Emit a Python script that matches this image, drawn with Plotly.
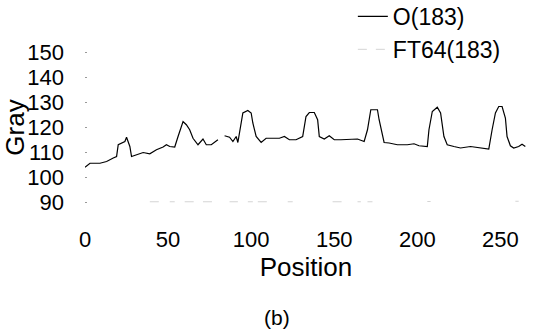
import plotly.graph_objects as go

# O(183) profile
position_o = [0, 3, 9, 13, 17, 19, 20, 22, 24, 25, 27, 28, 31, 35, 39, 43, 47, 49, 51, 54,
              56, 59, 61, 63, 65, 68, 71, 73, 76, 80, 82, 84, 87, 89, 91, 92, 95, 98, 100,
              101, 103, 106, 109, 113, 117, 120, 123, 127, 131, 133, 135, 138, 140, 141,
              144, 147, 150, 154, 158, 164, 168, 170, 172, 176, 177, 180, 183, 188, 194,
              198, 201, 206, 207, 209, 212, 214, 216, 218, 222, 226, 232, 238, 243, 245,
              247, 249, 251, 253, 254, 256, 258, 261, 263, 265]
gray_o = [104.1, 105.7, 105.7, 106.4, 107.8, 108.4, 113.1, 113.8, 114.4, 116.1, 112.4, 108.4,
          109.1, 110.0, 109.5, 111.1, 112.2, 113.1, 112.4, 112.2, 116.4, 122.4, 121.1, 119.1,
          115.7, 113.1, 115.4, 113.1, 113.1, 115.1, None, 116.7, 116.1, 114.4, 116.4, 114.0,
          125.8, 126.8, 125.8, 121.8, 116.4, 114.0, 115.7, 115.7, 115.7, 116.4, 115.1, 115.1,
          116.4, 124.4, 126.0, 126.0, 123.1, 116.4, 115.4, 116.7, 115.1, 115.1, 115.1, 115.4,
          114.4, 119.1, 127.1, 127.1, 123.1, 114.0, 113.8, 113.1, 113.1, 113.5, 112.7, 112.4,
          119.1, 126.4, 128.1, 125.8, 116.4, 113.1, 112.4, 111.8, 112.4, 111.8, 111.4, 119.1,
          125.8, 128.4, 128.4, 123.8, 116.4, 112.7, 111.8, 112.4, 113.3, 112.4]

# FT64(183) faint fragments near the bottom
position_ft = [39, 45, None, 51, 54, None, 60, 69, None, 71, 77, None, 87, 92, None, 98, 101,
               None, 104, 112, None, 122, 125, None, 149, 158, None, 164, 166, None, 170, 173,
               None, 206, 208, None, 259, 261]
gray_ft = [90.3, 90.3, None, 90.3, 90.3, None, 90.3, 90.3, None, 90.3, 90.3, None, 90.3, 90.3,
           None, 90.3, 90.3, None, 90.3, 90.3, None, 90.3, 90.3, None, 90.3, 90.3, None, 90.3,
           90.3, None, 90.3, 90.3, None, 90.4, 90.4, None, 90.5, 90.5]

y_ticks = [90, 100, 110, 120, 130, 140, 150]
x_ticks = [0, 50, 100, 150, 200, 250]

fig = go.Figure()
fig.add_trace(go.Scatter(x=position_o, y=gray_o, mode="lines", name="O(183)",
                         line=dict(color="black", width=1.2), connectgaps=False,
                         legendgroup="a"))
fig.add_trace(go.Scatter(x=position_ft, y=gray_ft, mode="lines", name="FT64(183)",
                         line=dict(color="#d4d4d4", width=1, dash="dash"), connectgaps=False,
                         legendgroup="b"))

font_family = "Liberation Sans, Arial, sans-serif"
fig.update_layout(
    width=538, height=329,
    margin=dict(l=85, r=11, t=50, b=124, autoexpand=False),
    paper_bgcolor="white", plot_bgcolor="white",
    font=dict(family=font_family, color="black", size=22),
    legend=dict(x=0.606, y=1.355, xanchor="left", yanchor="top",
                font=dict(size=23), bgcolor="rgba(0,0,0,0)",
                traceorder="grouped", tracegroupgap=0),
    xaxis=dict(range=[0, 266], tickvals=x_ticks, showgrid=False, zeroline=False,
               showline=False, ticks="", ticklabelstandoff=19,
               title=dict(text="Position", standoff=0), automargin=False),
    yaxis=dict(range=[89, 151], tickvals=y_ticks, showgrid=False, zeroline=False,
               showline=False, ticks="inside", ticklen=2, tickcolor="#999",
               ticklabelstandoff=20,
               title=dict(text="Gray", standoff=0), automargin=False),
    annotations=[dict(text="(b)", xref="paper", yref="paper", x=0.434, y=-0.729,
                      showarrow=False, font=dict(size=21), xanchor="center",
                      yanchor="middle")],
)

fig.write_html("out.html", config={"displayModeBar": False},
               post_script="document.body.style.margin='0';document.body.style.overflow='hidden';")
